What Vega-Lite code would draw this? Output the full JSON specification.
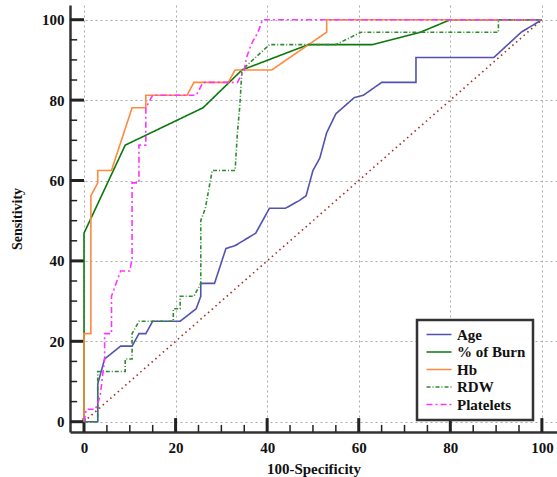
{
  "$schema": "https://vega.github.io/schema/vega-lite/v6.json",
  "width": 487,
  "height": 427,
  "autosize": {"type": "none"},
  "padding": {"left": 70, "top": 5, "right": 0, "bottom": 45},
  "background": "white",
  "datasets": {
    "roc": [
      {"s":"Age","i":0,"x":0,"y":0},{"s":"Age","i":1,"x":3,"y":0},{"s":"Age","i":2,"x":3,"y":9.4},{"s":"Age","i":3,"x":4.5,"y":15.6},{"s":"Age","i":4,"x":8,"y":18.8},{"s":"Age","i":5,"x":10.5,"y":18.8},{"s":"Age","i":6,"x":12,"y":21.9},{"s":"Age","i":7,"x":13.5,"y":21.9},{"s":"Age","i":8,"x":15,"y":25},{"s":"Age","i":9,"x":21,"y":25},{"s":"Age","i":10,"x":24.5,"y":28.1},{"s":"Age","i":11,"x":25.5,"y":31.2},{"s":"Age","i":12,"x":25.5,"y":34.4},{"s":"Age","i":13,"x":28.5,"y":34.4},{"s":"Age","i":14,"x":31,"y":43.1},{"s":"Age","i":15,"x":33,"y":43.8},{"s":"Age","i":16,"x":37.5,"y":46.9},{"s":"Age","i":17,"x":40.5,"y":53.1},{"s":"Age","i":18,"x":44,"y":53.1},{"s":"Age","i":19,"x":47,"y":55},{"s":"Age","i":20,"x":48.5,"y":56.2},{"s":"Age","i":21,"x":50,"y":62.5},{"s":"Age","i":22,"x":51.5,"y":65.6},{"s":"Age","i":23,"x":53,"y":71.9},{"s":"Age","i":24,"x":55,"y":76.6},{"s":"Age","i":25,"x":59,"y":80.6},{"s":"Age","i":26,"x":61,"y":81.2},{"s":"Age","i":27,"x":65,"y":84.4},{"s":"Age","i":28,"x":72.5,"y":84.4},{"s":"Age","i":29,"x":72.5,"y":90.6},{"s":"Age","i":30,"x":89.5,"y":90.6},{"s":"Age","i":31,"x":95.5,"y":96.9},{"s":"Age","i":32,"x":100,"y":100},
      {"s":"% of Burn","i":0,"x":0,"y":0},{"s":"% of Burn","i":1,"x":0,"y":46.9},{"s":"% of Burn","i":2,"x":9,"y":68.8},{"s":"% of Burn","i":3,"x":26,"y":78.1},{"s":"% of Burn","i":4,"x":34.5,"y":87.5},{"s":"% of Burn","i":5,"x":49,"y":93.8},{"s":"% of Burn","i":6,"x":63,"y":93.8},{"s":"% of Burn","i":7,"x":73.5,"y":96.9},{"s":"% of Burn","i":8,"x":80,"y":100},{"s":"% of Burn","i":9,"x":100,"y":100},
      {"s":"Hb","i":0,"x":0,"y":0},{"s":"Hb","i":1,"x":0,"y":21.9},{"s":"Hb","i":2,"x":1.5,"y":21.9},{"s":"Hb","i":3,"x":1.5,"y":56.2},{"s":"Hb","i":4,"x":3,"y":59.4},{"s":"Hb","i":5,"x":3,"y":62.5},{"s":"Hb","i":6,"x":6,"y":62.5},{"s":"Hb","i":7,"x":10.5,"y":78.1},{"s":"Hb","i":8,"x":13.5,"y":78.1},{"s":"Hb","i":9,"x":13.5,"y":81.2},{"s":"Hb","i":10,"x":22.5,"y":81.2},{"s":"Hb","i":11,"x":24,"y":84.4},{"s":"Hb","i":12,"x":31.5,"y":84.4},{"s":"Hb","i":13,"x":33,"y":87.5},{"s":"Hb","i":14,"x":41,"y":87.5},{"s":"Hb","i":15,"x":53,"y":96.9},{"s":"Hb","i":16,"x":53,"y":100},{"s":"Hb","i":17,"x":100,"y":100},
      {"s":"RDW","i":0,"x":0,"y":0},{"s":"RDW","i":1,"x":3,"y":0},{"s":"RDW","i":2,"x":3,"y":12.5},{"s":"RDW","i":3,"x":9,"y":12.5},{"s":"RDW","i":4,"x":9,"y":15.6},{"s":"RDW","i":5,"x":10.5,"y":15.6},{"s":"RDW","i":6,"x":10.5,"y":21.9},{"s":"RDW","i":7,"x":12,"y":25},{"s":"RDW","i":8,"x":19.5,"y":25},{"s":"RDW","i":9,"x":19.5,"y":28.1},{"s":"RDW","i":10,"x":21,"y":28.1},{"s":"RDW","i":11,"x":21,"y":31.2},{"s":"RDW","i":12,"x":24,"y":31.2},{"s":"RDW","i":13,"x":25.5,"y":34.4},{"s":"RDW","i":14,"x":25.5,"y":50},{"s":"RDW","i":15,"x":26.5,"y":53.1},{"s":"RDW","i":16,"x":28,"y":62.5},{"s":"RDW","i":17,"x":33,"y":62.5},{"s":"RDW","i":18,"x":33.5,"y":71.9},{"s":"RDW","i":19,"x":34,"y":78.1},{"s":"RDW","i":20,"x":34.5,"y":87.5},{"s":"RDW","i":21,"x":40.5,"y":93.8},{"s":"RDW","i":22,"x":55,"y":93.8},{"s":"RDW","i":23,"x":60.5,"y":96.9},{"s":"RDW","i":24,"x":90.5,"y":96.9},{"s":"RDW","i":25,"x":90.5,"y":100},{"s":"RDW","i":26,"x":100,"y":100},
      {"s":"Platelets","i":0,"x":0,"y":0},{"s":"Platelets","i":1,"x":0.5,"y":3.1},{"s":"Platelets","i":2,"x":2.5,"y":3.1},{"s":"Platelets","i":3,"x":3.5,"y":6.2},{"s":"Platelets","i":4,"x":4.5,"y":15.6},{"s":"Platelets","i":5,"x":4.5,"y":21.9},{"s":"Platelets","i":6,"x":6,"y":21.9},{"s":"Platelets","i":7,"x":6,"y":31.2},{"s":"Platelets","i":8,"x":7,"y":34.4},{"s":"Platelets","i":9,"x":8,"y":37.5},{"s":"Platelets","i":10,"x":10,"y":37.5},{"s":"Platelets","i":11,"x":10.5,"y":40.6},{"s":"Platelets","i":12,"x":10.5,"y":59.4},{"s":"Platelets","i":13,"x":12,"y":59.4},{"s":"Platelets","i":14,"x":12,"y":68.8},{"s":"Platelets","i":15,"x":13.5,"y":68.8},{"s":"Platelets","i":16,"x":13.5,"y":78.1},{"s":"Platelets","i":17,"x":15,"y":81.2},{"s":"Platelets","i":18,"x":24.5,"y":81.2},{"s":"Platelets","i":19,"x":26,"y":84.4},{"s":"Platelets","i":20,"x":33.5,"y":84.4},{"s":"Platelets","i":21,"x":35,"y":87.5},{"s":"Platelets","i":22,"x":35.5,"y":90.6},{"s":"Platelets","i":23,"x":36.5,"y":93.8},{"s":"Platelets","i":24,"x":38,"y":96.9},{"s":"Platelets","i":25,"x":39,"y":100},{"s":"Platelets","i":26,"x":100,"y":100}
    ],
    "diag": [{"x":0,"y":0},{"x":100,"y":100}],
    "ticks": [{"v":0},{"v":5},{"v":10},{"v":15},{"v":20},{"v":25},{"v":30},{"v":35},{"v":40},{"v":45},{"v":50},{"v":55},{"v":60},{"v":65},{"v":70},{"v":75},{"v":80},{"v":85},{"v":90},{"v":95},{"v":100}]
  },
  "layer": [
    {
      "data": {"name": "diag"},
      "mark": {"type": "line", "color": "#A52A2A", "strokeWidth": 1.6, "strokeDash": [1.5, 3.5]},
      "encoding": {
        "x": {"field": "x", "type": "quantitative",
          "scale": {"domain": [-3.06, 103.3], "nice": false, "zero": false},
          "axis": {
            "values": [0,5,10,15,20,25,30,35,40,45,50,55,60,65,70,75,80,85,90,95,100],
            "labelExpr": "datum.value % 20 === 0 ? datum.label : ''",
            "ticks": false,
            "domainColor": "#333", "domainWidth": 2.5,
            "grid": true,
            "gridOpacity": {"condition": {"test": "datum.value % 20 === 0", "value": 1}, "value": 0},
            "gridColor": "#aaaaaa", "gridDash": [2, 3], "gridWidth": 1,
            "labelFont": "Liberation Serif", "labelFontWeight": "bold", "labelFontSize": 15, "labelColor": "#111",
            "labelPadding": 8,
            "title": "100-Specificity", "titleFont": "Liberation Serif", "titleFontWeight": "bold", "titleFontSize": 15, "titleColor": "#111", "titlePadding": 6
          }
        },
        "y": {"field": "y", "type": "quantitative",
          "scale": {"domain": [-2.56, 103.66], "nice": false, "zero": false},
          "axis": {
            "values": [0,5,10,15,20,25,30,35,40,45,50,55,60,65,70,75,80,85,90,95,100],
            "labelExpr": "datum.value % 20 === 0 ? datum.label : ''",
            "ticks": false,
            "domainColor": "#333", "domainWidth": 2.5,
            "grid": true,
            "gridOpacity": {"condition": {"test": "datum.value % 20 === 0", "value": 1}, "value": 0},
            "gridColor": "#aaaaaa", "gridDash": [2, 3], "gridWidth": 1,
            "labelFont": "Liberation Serif", "labelFontWeight": "bold", "labelFontSize": 15, "labelColor": "#111",
            "labelPadding": 6,
            "title": "Sensitivity", "titleFont": "Liberation Serif", "titleFontWeight": "bold", "titleFontSize": 14, "titleColor": "#111", "titlePadding": 17
          }
        }
      }
    },
    {
      "data": {"name": "ticks"},
      "transform": [{"filter": "datum.v % 20 !== 0"}],
      "mark": {"type": "rule", "color": "#222", "strokeWidth": 1.5},
      "encoding": {
        "x": {"field": "v", "type": "quantitative"},
        "y": {"datum": -2.56, "type": "quantitative"},
        "y2": {"datum": -0.8}
      }
    },
    {
      "data": {"name": "ticks"},
      "transform": [{"filter": "datum.v % 20 === 0"}],
      "mark": {"type": "rule", "color": "#222", "strokeWidth": 3},
      "encoding": {
        "x": {"field": "v", "type": "quantitative"},
        "y": {"datum": -2.56, "type": "quantitative"},
        "y2": {"datum": 0.9}
      }
    },
    {
      "data": {"name": "ticks"},
      "transform": [{"filter": "datum.v % 20 !== 0"}],
      "mark": {"type": "rule", "color": "#222", "strokeWidth": 1.5},
      "encoding": {
        "y": {"field": "v", "type": "quantitative"},
        "x": {"datum": -3.06, "type": "quantitative"},
        "x2": {"datum": -1.5}
      }
    },
    {
      "data": {"name": "ticks"},
      "transform": [{"filter": "datum.v % 20 === 0"}],
      "mark": {"type": "rule", "color": "#222", "strokeWidth": 3},
      "encoding": {
        "y": {"field": "v", "type": "quantitative"},
        "x": {"datum": -3.06, "type": "quantitative"},
        "x2": {"datum": 0}
      }
    },
    {
      "data": {"name": "roc"},
      "mark": {"type": "line", "strokeWidth": 1.6},
      "encoding": {
        "x": {"field": "x", "type": "quantitative"},
        "y": {"field": "y", "type": "quantitative"},
        "order": {"field": "i", "type": "quantitative"},
        "color": {"field": "s", "type": "nominal", "title": null,
          "scale": {"domain": ["Age", "% of Burn", "Hb", "RDW", "Platelets"],
                    "range": ["#5252B0", "#0A780A", "#FF8A3D", "#2E8B2E", "#FF33FF"]}},
        "strokeDash": {"field": "s", "type": "nominal", "title": null,
          "scale": {"domain": ["Age", "% of Burn", "Hb", "RDW", "Platelets"],
                    "range": [[1, 0], [1, 0], [1, 0], [4, 2, 1, 2], [6, 3, 2, 3]]}}
      }
    }
  ],
  "config": {
    "view": {"stroke": null},
    "legend": {
      "orient": "none", "legendX": 347, "legendY": 315,
      "fillColor": "white", "strokeColor": "#333", "strokeWidth": 2.5, "padding": 7,
      "symbolType": "M-1,0H4", "symbolSize": 100, "symbolStrokeWidth": 1.6,
      "labelFont": "Liberation Serif", "labelFontWeight": "bold", "labelFontSize": 15, "labelColor": "#111",
      "labelOffset": 18, "rowPadding": 1.5
    }
  }
}
